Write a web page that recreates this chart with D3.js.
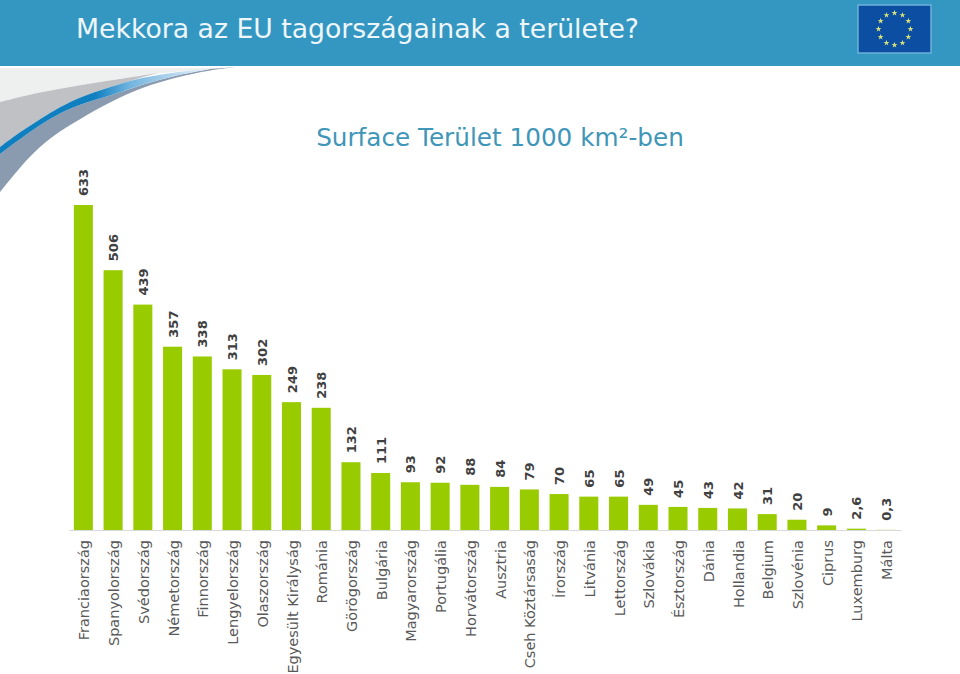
<!DOCTYPE html>
<html>
<head>
<meta charset="utf-8">
<script src="https://cdnjs.cloudflare.com/ajax/libs/d3/7.8.5/d3.min.js"></script>
<style>
  html, body { margin: 0; padding: 0; background: #fff; }
  svg { display: block; }
  text { font-family: "DejaVu Sans", Verdana, sans-serif; }
</style>
</head>
<body>
<script>
// countries, biggest first
var countries = ['Franciaország', 'Spanyolország', 'Svédország', 'Németország', 'Finnország', 'Lengyelország',
  'Olaszország', 'Egyesült Királyság', 'Románia', 'Görögország', 'Bulgária', 'Magyarország', 'Portugália',
  'Horvátország', 'Ausztria', 'Cseh Köztársaság', 'Írország', 'Litvánia', 'Lettország', 'Szlovákia',
  'Észtország', 'Dánia', 'Hollandia', 'Belgium', 'Szlovénia', 'Ciprus', 'Luxemburg', 'Málta'];
var areas = [633, 506, 439, 357, 338, 313, 302, 249, 238, 132, 111, 93, 92, 88, 84, 79, 70, 65, 65, 49, 45, 43, 42, 31, 20, 9, 2.6, 0.3];
var areaLabels = ['633', '506', '439', '357', '338', '313', '302', '249', '238', '132', '111', '93', '92', '88', '84', '79',
  '70', '65', '65', '49', '45', '43', '42', '31', '20', '9', '2,6', '0,3'];

var width = 960, height = 674;

var svg = d3.select('body').append('svg')
  .attr('width', width)
  .attr('height', height);

// header band
svg.append('rect')
  .attr('width', width)
  .attr('height', 66)
  .attr('fill', '#3497c2');

svg.append('text')
  .attr('x', 76)
  .attr('y', 38)
  .attr('font-size', 26.7)
  .attr('fill', '#eef6fa')
  .text('Mekkora az EU tagországainak a területe?');

// swoosh in the top left corner, edges
var edgeGreyTop = [[0,102],[40,92],[80,85],[120,79],[158,73]];
var edgeBlueTop = [[0,147],[20,132],[40,119],[60,107],[80,97],[110,87],[143,77],[177,72],[210,68]];
var edgeBlueBottom = [[0,154],[20,139],[40,125],[60,113],[80,104],[110,96],[143,84],[177,75],[210,69]];
var edgeSlateBottom = [[0,192],[20,167],[40,146],[60,131],[80,119],[110,102],[143,87],[177,77],[210,70],[237,67]];

var curve = d3.line().curve(d3.curveBasis);
// closes the area between two edges
var band = function(top, bottom){
  return curve(top) + 'L' + curve(bottom.slice().reverse()).slice(1) + 'Z';
};

var fade = svg.append('defs').append('linearGradient').attr('id', 'fade')
  .attr('gradientUnits', 'userSpaceOnUse')
  .attr('x1', 0).attr('x2', 210).attr('y1', 0).attr('y2', 0);
fade.append('stop').attr('offset', '0.45').attr('stop-color', '#0f7fc0');
fade.append('stop').attr('offset', '0.62').attr('stop-color', '#72b4de');
fade.append('stop').attr('offset', '1').attr('stop-color', '#edf4fa');

svg.append('path')
  .attr('d', band([[0,68],[225,68]], edgeGreyTop.concat([[225,68]])))
  .attr('fill', '#eef0f0');
svg.append('path')
  .attr('d', band(edgeGreyTop, edgeBlueTop.slice(0, 7)))
  .attr('fill', '#bfc1c4');
svg.append('path')
  .attr('d', band(edgeBlueBottom, edgeSlateBottom))
  .attr('fill', '#8a9bb0');
svg.append('path')
  .attr('d', band(edgeBlueTop, edgeBlueBottom))
  .attr('fill', 'url(#fade)');

// EU flag
var flagX = 858, flagY = 5, flagW = 73, flagH = 48;
svg.append('rect')
  .attr('x', flagX)
  .attr('y', flagY)
  .attr('width', flagW)
  .attr('height', flagH)
  .attr('fill', '#0b4ea2')
  .attr('stroke', '#6db1d8')
  .attr('stroke-width', 1.5);

var star = d3.symbol().type(d3.symbolStar).size(11);
svg.append('g').selectAll('path')
  .data(d3.range(12))
  .enter()
  .append('path')
  .attr('d', star)
  .attr('fill', '#d8e27a')
  .attr('transform', function(d){
    var a = d / 12 * 2 * Math.PI;
    return 'translate(' + (flagX + flagW / 2 + 16 * Math.sin(a)) + ',' + (flagY + flagH / 2 - 16 * Math.cos(a)) + ')';
  });

// subtitle
svg.append('text')
  .attr('x', 500)
  .attr('y', 146)
  .attr('text-anchor', 'middle')
  .attr('font-size', 24.7)
  .attr('fill', '#4096b8')
  .text('Surface Terület 1000 km²-ben');

// scales
var x = d3.scaleBand()
  .domain(countries)
  .range([68.5, 901])
  .paddingInner(0.36)
  .paddingOuter(0.18);

var y = d3.scaleLinear()
  .domain([0, 633])
  .range([530, 205]);

// bars
svg.append('g').selectAll('rect')
  .data(areas)
  .enter()
  .append('rect')
  .attr('x', function(d, i){ return x(countries[i]) })
  .attr('y', function(d){ return y(d) })
  .attr('width', x.bandwidth())
  .attr('height', function(d){ return y(0) - y(d) })
  .attr('fill', '#99cc00');

// baseline and country labels
var xAxis = svg.append('g')
  .attr('transform', 'translate(0,' + y(0) + ')')
  .call(d3.axisBottom(x).tickSize(0).tickPadding(0));

xAxis.select('.domain')
  .attr('stroke', '#d9d9d9')
  .attr('stroke-width', 1);

xAxis.selectAll('text')
  .attr('transform', 'rotate(-90)')
  .attr('x', -10)
  .attr('y', 1)
  .attr('dy', '0.35em')
  .attr('text-anchor', 'end')
  .attr('font-size', 14.5)
  .attr('fill', '#595959')
  .style('font-family', '"DejaVu Sans", Verdana, sans-serif');

// value labels over the bars
svg.append('g').selectAll('text')
  .data(areas)
  .enter()
  .append('text')
  .attr('transform', function(d, i){
    return 'translate(' + (x(countries[i]) + x.bandwidth() / 2 + 0.5) + ',' + (y(d) - 9) + ') rotate(-90)';
  })
  .attr('dy', '0.35em')
  .attr('font-size', 13)
  .attr('font-weight', 'bold')
  .attr('fill', '#404040')
  .text(function(d, i){ return areaLabels[i] });
</script>
</body>
</html>
